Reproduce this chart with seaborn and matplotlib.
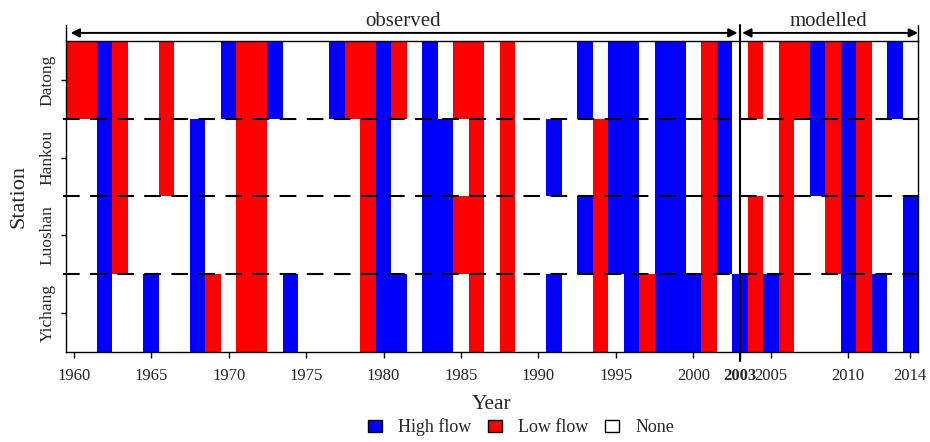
import numpy as np
import pandas as pd
import matplotlib
matplotlib.use("Agg")
import matplotlib.pyplot as plt
import matplotlib.transforms as mtransforms
from matplotlib.colors import ListedColormap
from matplotlib.patches import Patch
import seaborn as sns

# ---- data -------------------------------------------------------------
years = list(range(1960, 2015))
stations = ["Datong", "Hankou", "Luoshan", "Yichang"]

datong_high = [1962, 1970, 1973, 1977, 1980, 1983, 1993, 1995, 1996, 1998,
               1999, 2002, 2008, 2010, 2013]
datong_low = [1960, 1961, 1963, 1966, 1971, 1972, 1978, 1979, 1981, 1985,
              1986, 1988, 2001, 2004, 2006, 2007, 2009, 2011]
hankou_high = [1962, 1968, 1980, 1983, 1984, 1991, 1995, 1996, 1998, 1999,
               2002, 2008, 2010]
hankou_low = [1963, 1966, 1971, 1972, 1979, 1986, 1988, 1994, 2001, 2006,
              2009, 2011]
luoshan_high = [1962, 1968, 1980, 1983, 1984, 1993, 1995, 1996, 1998, 1999,
                2002, 2010, 2014]
luoshan_low = [1963, 1971, 1972, 1979, 1985, 1986, 1988, 1994, 2001, 2004,
               2006, 2009, 2011]
yichang_high = [1962, 1965, 1968, 1974, 1980, 1981, 1983, 1984, 1991, 1996,
                1998, 1999, 2000, 2003, 2005, 2010, 2012, 2014]
yichang_low = [1969, 1971, 1972, 1979, 1986, 1988, 1994, 1997, 2001, 2004,
               2006, 2011]

categories = ["High flow", "Low flow", "None"]
cat_colors = ["#0000FF", "#FF0000", "#FFFFFF"]
tick_years = [1960, 1965, 1970, 1975, 1980, 1985, 1990, 1995, 2000, 2003,
              2005, 2010, 2014]
split_year = 2003
period_labels = ["observed", "modelled"]

# ---- build the station x year code table (0 none, 1 high, 2 low) ---------
events = {
    "Datong": (datong_high, datong_low),
    "Hankou": (hankou_high, hankou_low),
    "Luoshan": (luoshan_high, luoshan_low),
    "Yichang": (yichang_high, yichang_low),
}
table = pd.DataFrame(0, index=stations, columns=years)
for st, (hi, lo) in events.items():
    table.loc[st, hi] = 1
    table.loc[st, lo] = 2

# ---- styling ----------------------------------------------------------
sns.set_style("ticks")
plt.rcParams["font.family"] = ["Liberation Serif", "DejaVu Serif"]

fig = plt.figure(figsize=(9.3, 4.42), dpi=100)
ax = fig.add_axes([66 / 930, 90 / 442, 852 / 930, 311 / 442])

cmap = ListedColormap([cat_colors[2], cat_colors[0], cat_colors[1]])
sns.heatmap(table, cmap=cmap, vmin=0, vmax=2, cbar=False, ax=ax,
            xticklabels=False, yticklabels=False, linewidths=0)

for side in ["left", "bottom", "top", "right"]:
    ax.spines[side].set_visible(True)
    ax.spines[side].set_color("black")
    ax.spines[side].set_linewidth(1.0)

# ticks
xpos = [y - years[0] + 0.5 for y in tick_years]
ax.set_xticks(xpos)
ax.set_xticklabels([str(y) for y in tick_years], fontsize=12, rotation=0)
for lab, y in zip(ax.get_xticklabels(), tick_years):
    if y == split_year:
        lab.set_fontweight("bold")
        lab.set_transform(lab.get_transform() +
                          mtransforms.ScaledTranslation(-4 / 100, 0,
                                                        fig.dpi_scale_trans))
ax.set_yticks(np.arange(len(stations)) + 0.5)
ax.set_yticklabels(stations, fontsize=12.5, rotation=90, va="center")
ax.tick_params(axis="x", direction="out", length=4.3, width=1, pad=7.5,
               bottom=True, color="black")
ax.tick_params(axis="y", direction="out", length=3.5, width=1, pad=4,
               left=True, color="black")

ax.set_xlabel("Year", fontsize=15.5)
ax.xaxis.set_label_coords(0.5, -0.138)
ax.set_ylabel("Station", fontsize=16)
ax.yaxis.set_label_coords(-0.044, 0.5)

# dashed separators between stations
for b in range(1, len(stations)):
    ax.plot([-0.2, len(years)], [b, b], color="black", lw=1.5,
            dashes=(8, 5), clip_on=False, zorder=3)

# observed / modelled split
trans = ax.get_xaxis_transform()
xs = split_year - years[0] + 0.5
x_end = len(years)
ax.plot([xs, xs], [-0.029, 1.052], color="black", lw=1.5,
        transform=trans, clip_on=False, zorder=4)
for xe in (0, x_end):
    ax.plot([xe, xe], [1.0, 1.052], color="black", lw=1.0,
            transform=trans, clip_on=False, zorder=4)

arrow_kw = dict(arrowstyle="<|-|>", color="black", lw=1.4,
                mutation_scale=13, shrinkA=0, shrinkB=0)
ya = 1.026
ax.annotate("", xy=(xs - 0.15, ya), xytext=(0.3, ya), xycoords=trans,
            textcoords=trans, arrowprops=arrow_kw, annotation_clip=False)
ax.annotate("", xy=(x_end, ya), xytext=(xs + 0.15, ya), xycoords=trans,
            textcoords=trans, arrowprops=arrow_kw, annotation_clip=False)
ax.text(xs / 2, 1.048, period_labels[0], transform=trans, ha="center",
        va="baseline", fontsize=15)
ax.text((xs + x_end) / 2, 1.048, period_labels[1], transform=trans,
        ha="center", va="baseline", fontsize=15)

# legend
handles = [Patch(facecolor=c, edgecolor="black", lw=1.0) for c in cat_colors]
fig.legend(handles, categories, loc="center", ncol=3, frameon=False,
           bbox_to_anchor=(521 / 930, 1 - 427.5 / 442), fontsize=13,
           handlelength=0.8, handleheight=0.7, handletextpad=0.9,
           columnspacing=0.9)

fig.savefig("out.png", dpi=100)
